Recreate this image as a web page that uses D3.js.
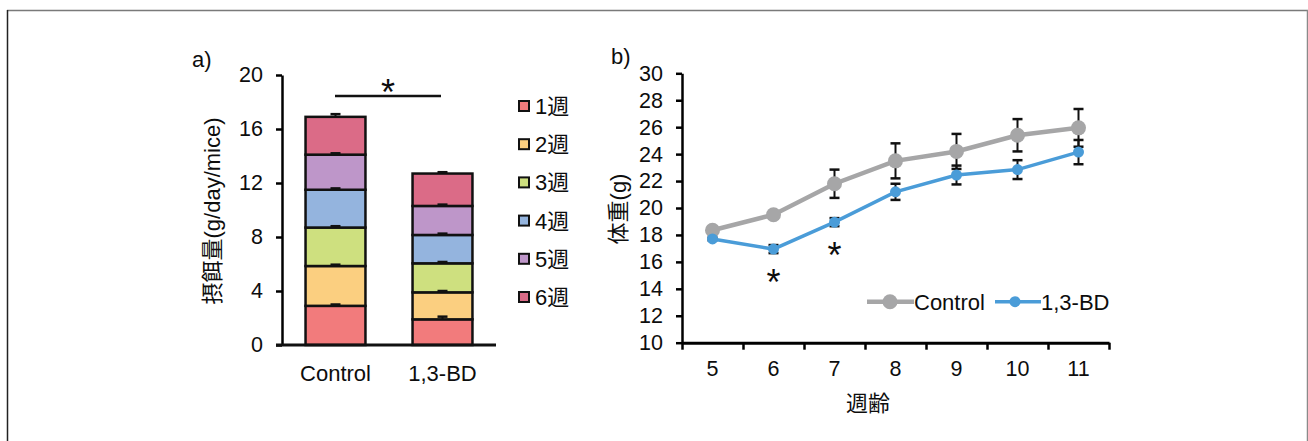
<!DOCTYPE html>
<html>
<head>
<meta charset="utf-8">
<script src="https://cdn.jsdelivr.net/npm/d3@7"></script>
<style>
  body { margin: 0; background: #fff; }
  text { font-family: "Liberation Sans", Arial, "Noto Sans CJK JP", sans-serif; fill: #0d0d0d; }
  .cjk { font-family: "Liberation Sans", "Noto Sans CJK JP", sans-serif; }
</style>
</head>
<body>
<div id="chart"></div>
<script>
// ---- data ----
// a) food intake, stacked by week
var barGroups = ["Control", "1,3-BD"];
var weekLabels = ["1週", "2週", "3週", "4週", "5週", "6週"];
var intakeControl = [2.9, 2.95, 2.85, 2.8, 2.6, 2.8];
var intakeBD = [1.9, 2.0, 2.15, 2.1, 2.15, 2.4];
var intakeErrControl = [0.1, 0.1, 0.1, 0.1, 0.1, 0.2];
var intakeErrBD = [0.2, 0.1, 0.1, 0.1, 0.1, 0.1];
var intakeTicks = [0, 4, 8, 12, 16, 20];

// b) body weight by age
var ageWeeks = ["5", "6", "7", "8", "9", "10", "11"];
var bwControl = [18.35, 19.5, 21.8, 23.5, 24.2, 25.4, 25.95];
var bwControlErr = [0.1, 0.25, 1.05, 1.3, 1.3, 1.2, 1.4];
var bwBD = [17.7, 16.95, 18.95, 21.2, 22.45, 22.85, 24.15];
var bwBDErr = [0.1, 0.3, 0.3, 0.6, 0.7, 0.7, 0.9];
var bwTicks = [10, 12, 14, 16, 18, 20, 22, 24, 26, 28, 30];
var sigWeeks = ["6", "7"];

var weekColors = ["#f27b7c", "#fbcf80", "#cee07f", "#94b4de", "#be96c9", "#db6b87"];
var grayCol = "#a6a6a7";
var blueCol = "#4a9cd8";

var width = 1308, height = 441;

var svg = d3.select("#chart").append("svg")
    .attr("width", width)
    .attr("height", height);

// frame
svg.append("line").attr("x1", 7).attr("x2", 1308).attr("y1", 10.5).attr("y2", 10.5)
    .attr("stroke", "#7a7a7a").attr("stroke-width", 1.5);
svg.append("line").attr("x1", 7.5).attr("x2", 7.5).attr("y1", 10).attr("y2", 441)
    .attr("stroke", "#222").attr("stroke-width", 1.5);
svg.append("line").attr("x1", 1307.5).attr("x2", 1307.5).attr("y1", 10).attr("y2", 441)
    .attr("stroke", "#8a8a8a").attr("stroke-width", 1.5);

//// a) stacked bars ////
var yA = d3.scaleLinear().domain([0, 20]).range([345, 75]);
var xA = d3.scaleBand().domain(barGroups).range([282, 496])
    .paddingInner(0.44).paddingOuter(0.22);

var gA = svg.append("g");

var stacks = [intakeControl, intakeBD];
var errs = [intakeErrControl, intakeErrBD];
stacks.forEach(function (vals, gi) {
    var cum = 0;
    var segs = vals.map(function (v, i) {
        var s = { y0: cum, y1: cum + v, i: i, err: errs[gi][i] };
        cum += v;
        return s;
    });
    var gx = xA(barGroups[gi]);
    var bw = xA.bandwidth();
    gA.selectAll(null).data(segs).enter().append("rect")
        .attr("x", gx)
        .attr("y", d => yA(d.y1))
        .attr("width", bw)
        .attr("height", d => yA(d.y0) - yA(d.y1))
        .attr("fill", d => weekColors[d.i])
        .attr("stroke", "#111")
        .attr("stroke-width", 2.5);
    // error caps
    var cx = gx + bw / 2;
    gA.selectAll(null).data(segs).enter().append("line")
        .attr("x1", cx).attr("x2", cx)
        .attr("y1", d => yA(d.y1)).attr("y2", d => yA(d.y1 + d.err))
        .attr("stroke", "#111").attr("stroke-width", 2);
    gA.selectAll(null).data(segs).enter().append("line")
        .attr("x1", cx - 5).attr("x2", cx + 5)
        .attr("y1", d => yA(d.y1 + d.err)).attr("y2", d => yA(d.y1 + d.err))
        .attr("stroke", "#111").attr("stroke-width", 2.5);
});

// axes
var yAxisA = gA.append("g")
    .attr("transform", "translate(282,0)")
    .call(d3.axisLeft(yA).tickValues(intakeTicks).tickSizeInner(6).tickSizeOuter(0).tickPadding(13));
yAxisA.select(".domain").attr("stroke-width", 2.5);
yAxisA.selectAll(".tick line").attr("stroke-width", 2.5);
yAxisA.selectAll("text").attr("font-size", 21.5).attr("fill", "#0d0d0d");

gA.append("line").attr("x1", 276).attr("x2", 496).attr("y1", 345).attr("y2", 345)
    .attr("stroke", "#111").attr("stroke-width", 3);

gA.selectAll(null).data(barGroups).enter().append("text")
    .attr("x", d => xA(d) + xA.bandwidth() / 2)
    .attr("y", 381)
    .attr("text-anchor", "middle")
    .attr("font-size", 22)
    .text(d => d);

gA.append("text")
    .attr("class", "cjk")
    .attr("transform", "translate(220,211) rotate(-90)")
    .attr("text-anchor", "middle")
    .attr("font-size", 22)
    .text("摂餌量(g/day/mice)");

gA.append("text").attr("x", 192).attr("y", 67).attr("font-size", 22).text("a)");

// significance
gA.append("line").attr("x1", 335).attr("x2", 441).attr("y1", 96).attr("y2", 96)
    .attr("stroke", "#111").attr("stroke-width", 2.5);
gA.append("text").attr("x", 388).attr("y", 105).attr("text-anchor", "middle")
    .attr("font-size", 36).text("*");

// legend
var legA = gA.selectAll(".legA").data(weekLabels).enter().append("g")
    .attr("transform", (d, i) => `translate(519, ${106 + i * 38.2})`);
legA.append("rect").attr("x", 0).attr("y", -5).attr("width", 10).attr("height", 10)
    .attr("fill", (d, i) => weekColors[i]).attr("stroke", "#111").attr("stroke-width", 2);
legA.append("text").attr("class", "cjk").attr("x", 16).attr("y", 8)
    .attr("font-size", 22).text(d => d);

//// b) body weight ////
var yB = d3.scaleLinear().domain([10, 30]).range([342.7, 73.3]);
var xB = d3.scaleBand().domain(ageWeeks).range([682, 1109]).padding(0);
var xBt = d3.scaleLinear().domain([0, ageWeeks.length]).range([682, 1109]);
var cxB = d => xB(d) + xB.bandwidth() / 2;

var gB = svg.append("g");

var yAxisB = gB.append("g")
    .attr("transform", "translate(682,0)")
    .call(d3.axisLeft(yB).tickValues(bwTicks).tickSizeInner(6).tickSizeOuter(0).tickPadding(13));
yAxisB.select(".domain").attr("stroke-width", 2.5);
yAxisB.selectAll(".tick line").attr("stroke-width", 2.5);
yAxisB.selectAll("text").attr("font-size", 21.5).attr("fill", "#0d0d0d");

var xAxisB = gB.append("g")
    .attr("transform", "translate(0,342.7)")
    .call(d3.axisBottom(xBt).ticks(ageWeeks.length).tickFormat("").tickSizeInner(7).tickSizeOuter(0));
xAxisB.select(".domain").attr("stroke-width", 3);
xAxisB.selectAll(".tick line").attr("stroke-width", 2.5);

gB.selectAll(null).data(ageWeeks).enter().append("text")
    .attr("x", cxB).attr("y", 376)
    .attr("text-anchor", "middle").attr("font-size", 21.5).text(d => d);

gB.append("text").attr("class", "cjk").attr("x", 868).attr("y", 411)
    .attr("text-anchor", "middle").attr("font-size", 22).text("週齢");
gB.append("text").attr("class", "cjk")
    .attr("transform", "translate(626,209) rotate(-90)")
    .attr("text-anchor", "middle").attr("font-size", 22).text("体重(g)");
gB.append("text").attr("x", 611).attr("y", 64).attr("font-size", 22).text("b)");

function errorBars(vals, errsArr) {
    var d = vals.map((v, i) => ({ k: ageWeeks[i], v: v, e: errsArr[i] }));
    gB.selectAll(null).data(d).enter().append("line")
        .attr("x1", p => cxB(p.k)).attr("x2", p => cxB(p.k))
        .attr("y1", p => yB(p.v - p.e)).attr("y2", p => yB(p.v + p.e))
        .attr("stroke", "#111").attr("stroke-width", 2);
    [-1, 1].forEach(function (s) {
        gB.selectAll(null).data(d).enter().append("line")
            .attr("x1", p => cxB(p.k) - 5).attr("x2", p => cxB(p.k) + 5)
            .attr("y1", p => yB(p.v + s * p.e)).attr("y2", p => yB(p.v + s * p.e))
            .attr("stroke", "#111").attr("stroke-width", 2.5);
    });
}
errorBars(bwControl, bwControlErr);
errorBars(bwBD, bwBDErr);

var line = d3.line().x((v, i) => cxB(ageWeeks[i])).y(v => yB(v));

gB.append("path").datum(bwControl).attr("d", line)
    .attr("fill", "none").attr("stroke", grayCol).attr("stroke-width", 4.5);
gB.selectAll(null).data(bwControl).enter().append("circle")
    .attr("cx", (v, i) => cxB(ageWeeks[i])).attr("cy", v => yB(v))
    .attr("r", 7.5).attr("fill", grayCol);

gB.append("path").datum(bwBD).attr("d", line)
    .attr("fill", "none").attr("stroke", blueCol).attr("stroke-width", 3.5);
gB.selectAll(null).data(bwBD).enter().append("circle")
    .attr("cx", (v, i) => cxB(ageWeeks[i])).attr("cy", v => yB(v))
    .attr("r", 5.5).attr("fill", blueCol);

// significance stars below 1,3-BD points
gB.selectAll(null).data(sigWeeks).enter().append("text")
    .attr("x", d => cxB(d))
    .attr("y", d => yB(bwBD[ageWeeks.indexOf(d)]) + 46)
    .attr("text-anchor", "middle").attr("font-size", 36).text("*");

// legend
var legB = gB.append("g").attr("transform", "translate(867,301.7)");
legB.append("line").attr("x1", 0).attr("x2", 47).attr("stroke", grayCol).attr("stroke-width", 4.5);
legB.append("circle").attr("cx", 23).attr("r", 7.5).attr("fill", grayCol);
legB.append("text").attr("x", 47).attr("y", 8).attr("font-size", 22).text("Control");
legB.append("line").attr("x1", 128).attr("x2", 174).attr("stroke", blueCol).attr("stroke-width", 3.5);
legB.append("circle").attr("cx", 148).attr("r", 5.5).attr("fill", blueCol);
legB.append("text").attr("x", 174).attr("y", 8).attr("font-size", 22).text("1,3-BD");
</script>
</body>
</html>
